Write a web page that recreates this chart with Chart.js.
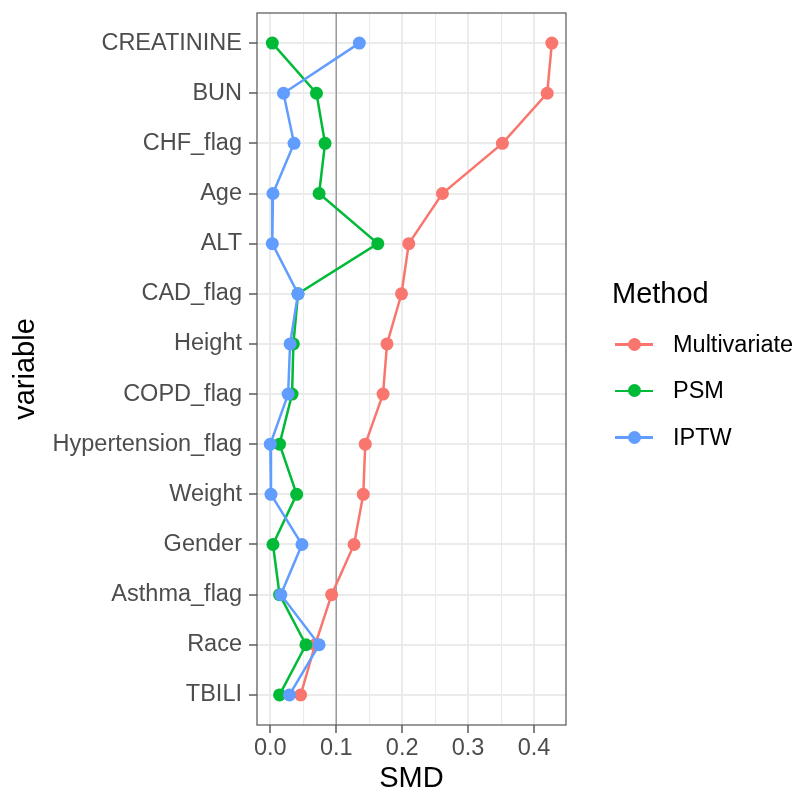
<!DOCTYPE html>
<html>
<head>
<meta charset="utf-8">
<title>SMD by variable</title>
<script src="https://cdn.jsdelivr.net/npm/chart.js@4.4.1/dist/chart.umd.min.js"></script>
<style>
    body { margin: 0; background: #fff; font-family: "Liberation Sans", Arial, Helvetica, sans-serif; }
    #wrap { position: relative; width: 797px; height: 793px; }
    #legend { position: absolute; left: 612px; top: 275px; }
    #legend .title { font-size: 29px; line-height: 36px; color: #000; margin-bottom: 10px; }
    #legend ul { list-style: none; margin: 0; padding: 0; }
    #legend li { display: flex; align-items: center; height: 46.5px; font-size: 23.5px; color: #000; }
    #legend .key { position: relative; width: 38px; height: 14px; margin: 0 20px 0 3px; }
    #legend .key .ln { position: absolute; left: 0; right: 0; top: 6px; height: 2.5px; }
    #legend .key .dot { position: absolute; left: 12.5px; top: 0.5px; width: 13px; height: 13px; border-radius: 50%; }
</style>
</head>
<body>
<div id="wrap">
    <canvas id="chart1" width="797" height="793"></canvas>
    <div id="legend"></div>
</div>
<script>
// variables, top to bottom as in the plot
const categories = ['CREATININE', 'BUN', 'CHF_flag', 'Age', 'ALT', 'CAD_flag', 'Height',
    'COPD_flag', 'Hypertension_flag', 'Weight', 'Gender', 'Asthma_flag', 'Race', 'TBILI'];

// SMD per method
const multivariate = [0.427, 0.420, 0.352, 0.261, 0.210, 0.199, 0.177, 0.171, 0.144, 0.141, 0.127, 0.093, 0.068, 0.046];
const psm = [0.003, 0.070, 0.083, 0.074, 0.163, 0.042, 0.035, 0.033, 0.014, 0.040, 0.004, 0.014, 0.054, 0.014];
const iptw = [0.135, 0.020, 0.036, 0.004, 0.003, 0.042, 0.030, 0.027, 0.000, 0.001, 0.048, 0.016, 0.074, 0.029];

const methods = ['Multivariate', 'PSM', 'IPTW'];
const methodColors = ['#F8766D', '#00BA38', '#619CFF'];
const seriesValues = [multivariate, psm, iptw];

const xTicks = [0, 0.1, 0.2, 0.3, 0.4];
const refLine = 0.1;

Chart.defaults.font.family = '"Liberation Sans", Arial, Helvetica, sans-serif';

// minor grid halfway between major ticks
let xGrid = [];
xTicks.forEach((t, i) => {
    xGrid.push({ value: t, major: true });
    if (i < xTicks.length - 1) xGrid.push({ value: (t + xTicks[i + 1]) / 2, major: false });
});

// vertical line at SMD = 0.1, under the data
const refLinePlugin = {
    id: 'refLine',
    beforeDatasetsDraw(chart) {
        const ctx = chart.ctx, area = chart.chartArea;
        const x = chart.scales.x.getPixelForValue(refLine);
        ctx.save();
        ctx.strokeStyle = '#8C8C8C';
        ctx.lineWidth = 1.2;
        ctx.beginPath();
        ctx.moveTo(x, area.top);
        ctx.lineTo(x, area.bottom);
        ctx.stroke();
        ctx.restore();
    }
};

// theme_bw panel border
const panelBorder = {
    id: 'panelBorder',
    afterDatasetsDraw(chart) {
        const ctx = chart.ctx, a = chart.chartArea;
        ctx.save();
        ctx.strokeStyle = '#555555';
        ctx.lineWidth = 1.2;
        ctx.strokeRect(a.left, a.top, a.right - a.left, a.bottom - a.top);
        ctx.restore();
    }
};

var chart1Ctx = document.getElementById('chart1').getContext('2d');
var chart1 = new Chart(chart1Ctx, {
    type: 'scatter',
    data: {
        datasets: methods.map((m, i) => ({
            label: m,
            data: seriesValues[i].map((v, j) => ({ x: v, y: j })),
            showLine: true,
            borderColor: methodColors[i],
            backgroundColor: methodColors[i],
            borderWidth: 2.5,
            pointRadius: 6.5,
            pointBorderWidth: 0,
            pointHoverRadius: 6.5,
            order: methods.length - i   // last method on top, like ggplot
        }))
    },
    options: {
        responsive: false,
        animation: false,
        events: [],
        layout: { padding: { left: 0, top: 13, right: 231, bottom: 0 } },
        plugins: {
            legend: { display: false },
            tooltip: { enabled: false }
        },
        scales: {
            x: {
                type: 'linear',
                min: -0.0202,
                max: 0.4485,
                afterBuildTicks: axis => { axis.ticks = xGrid.map(g => ({ value: g.value })); },
                afterFit: axis => { axis.height = 68; axis.paddingLeft = 0; axis.paddingRight = 0; },
                grid: {
                    color: '#EBEBEB',
                    lineWidth: c => (xGrid[c.index] && xGrid[c.index].major ? 2 : 1.1),
                    tickLength: 8,
                    tickWidth: 1.2,
                    tickColor: c => (xGrid[c.index] && xGrid[c.index].major ? '#333333' : 'rgba(0,0,0,0)')
                },
                border: { display: false },
                ticks: {
                    autoSkip: false,
                    maxRotation: 0,
                    padding: 1,
                    color: '#4D4D4D',
                    font: { size: 23.5 },
                    callback: (v, i) => (xGrid[i] && xGrid[i].major ? v.toFixed(1) : '')
                },
                title: {
                    display: true,
                    text: 'SMD',
                    color: '#000',
                    font: { size: 29, lineHeight: 1 },
                    padding: { top: 0, bottom: 0 }
                }
            },
            y: {
                type: 'linear',
                reverse: true,
                min: -0.6,
                max: categories.length - 1 + 0.6,
                afterBuildTicks: axis => { axis.ticks = categories.map((c, i) => ({ value: i })); },
                afterFit: axis => { axis.width = 257; axis.paddingTop = 0; axis.paddingBottom = 0; },
                grid: {
                    color: '#EBEBEB',
                    lineWidth: 2,
                    tickLength: 8,
                    tickWidth: 1.2,
                    tickColor: '#333333'
                },
                border: { display: false },
                ticks: {
                    autoSkip: false,
                    padding: 7,
                    color: '#4D4D4D',
                    font: { size: 23.5 },
                    callback: v => categories[v]
                },
                title: {
                    display: true,
                    text: 'variable',
                    color: '#000',
                    font: { size: 29, lineHeight: 1 },
                    padding: { top: 11, bottom: 0 }
                }
            }
        }
    },
    plugins: [refLinePlugin, panelBorder]
});

// legend in ggplot style: title + line-through-point keys
function buildLegend(chart) {
    const box = document.getElementById('legend');
    let html = '<div class="title">Method</div><ul>';
    chart.data.datasets.forEach(ds => {
        html += '<li><span class="key"><span class="ln" style="background:' + ds.borderColor + '"></span>' +
            '<span class="dot" style="background:' + ds.backgroundColor + '"></span></span>' + ds.label + '</li>';
    });
    html += '</ul>';
    box.innerHTML = html;
}
buildLegend(chart1);
</script>
</body>
</html>
